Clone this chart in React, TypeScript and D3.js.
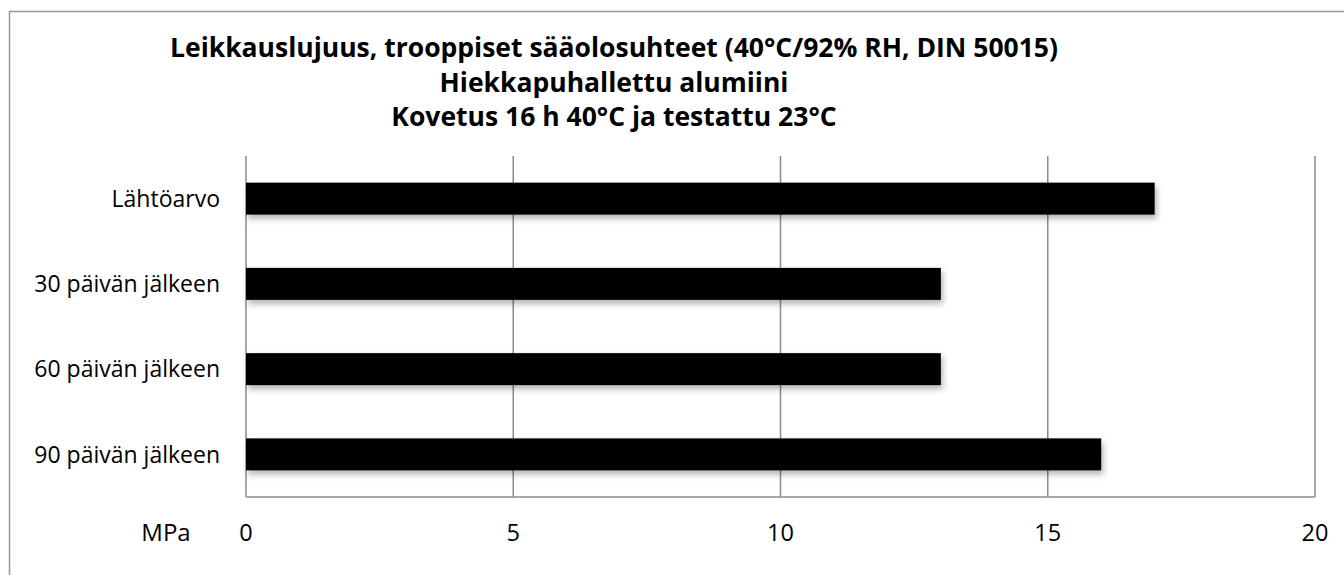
import React from "react";
import * as d3 from "d3";

const categories = ["Lähtöarvo", "30 päivän jälkeen", "60 päivän jälkeen", "90 päivän jälkeen"];
const values = [17, 13, 13, 16];
const xTicks = [0, 5, 10, 15, 20];
const titleLines = [
  "Leikkauslujuus, trooppiset sääolosuhteet (40°C/92% RH, DIN 50015)",
  "Hiekkapuhallettu alumiini",
  "Kovetus 16 h 40°C ja testattu 23°C",
];
const axisUnit = "MPa";

const W = 1344;
const H = 575;
const plot = { left: 246, right: 1315, top: 156, bottom: 497 };
const FONT = "'Open Sans', 'Liberation Sans', sans-serif";

export default function App() {
  const x = d3.scaleLinear().domain([0, 20]).range([plot.left, plot.right]);
  const y = d3
    .scaleBand<string>()
    .domain(categories)
    .range([plot.top, plot.bottom])
    .paddingInner(0.625)
    .paddingOuter(0.3125);

  return (
    <svg
      width={W}
      height={H}
      style={{ position: "absolute", left: 0, top: 0, display: "block", background: "#fff" }}
    >
      <defs>
        <filter id="sh" x="-5%" y="-30%" width="115%" height="190%">
          <feDropShadow dx="2" dy="4" stdDeviation="3" floodColor="#000" floodOpacity="0.3" />
        </filter>
      </defs>
      <rect x={9.5} y={11.5} width={W + 10} height={H + 10} fill="#fff" stroke="#999" strokeWidth={1.5} />

      {titleLines.map((t, i) => (
        <text
          key={i}
          x={614}
          y={57 + i * 34.5}
          textAnchor="middle"
          fontFamily={FONT}
          fontWeight="bold"
          fontSize={26.5}
          fill="#000"
        >
          {t}
        </text>
      ))}

      {xTicks.map((t) => (
        <line key={"g" + t} x1={x(t)} x2={x(t)} y1={plot.top} y2={plot.bottom} stroke="#8c8c8c" strokeWidth={1.5} />
      ))}
      <line x1={plot.left} x2={plot.right} y1={plot.bottom} y2={plot.bottom} stroke="#8c8c8c" strokeWidth={1.5} />

      {categories.map((c, i) => (
        <rect
          key={c}
          x={x(0)}
          y={y(c)!}
          width={x(values[i]) - x(0)}
          height={y.bandwidth()}
          fill="#000"
          filter="url(#sh)"
        />
      ))}

      {categories.map((c) => (
        <text
          key={"l" + c}
          x={220}
          y={y(c)! + y.bandwidth() / 2}
          dy="0.36em"
          textAnchor="end"
          fontFamily={FONT}
          fontSize={23}
          fill="#000"
        >
          {c}
        </text>
      ))}

      {xTicks.map((t) => (
        <text
          key={"t" + t}
          x={x(t)}
          y={541}
          textAnchor="middle"
          fontFamily={FONT}
          fontSize={23.5}
          fill="#000"
        >
          {t}
        </text>
      ))}
      <text x={166} y={541} textAnchor="middle" fontFamily={FONT} fontSize={24} fill="#000">
        {axisUnit}
      </text>
    </svg>
  );
}
